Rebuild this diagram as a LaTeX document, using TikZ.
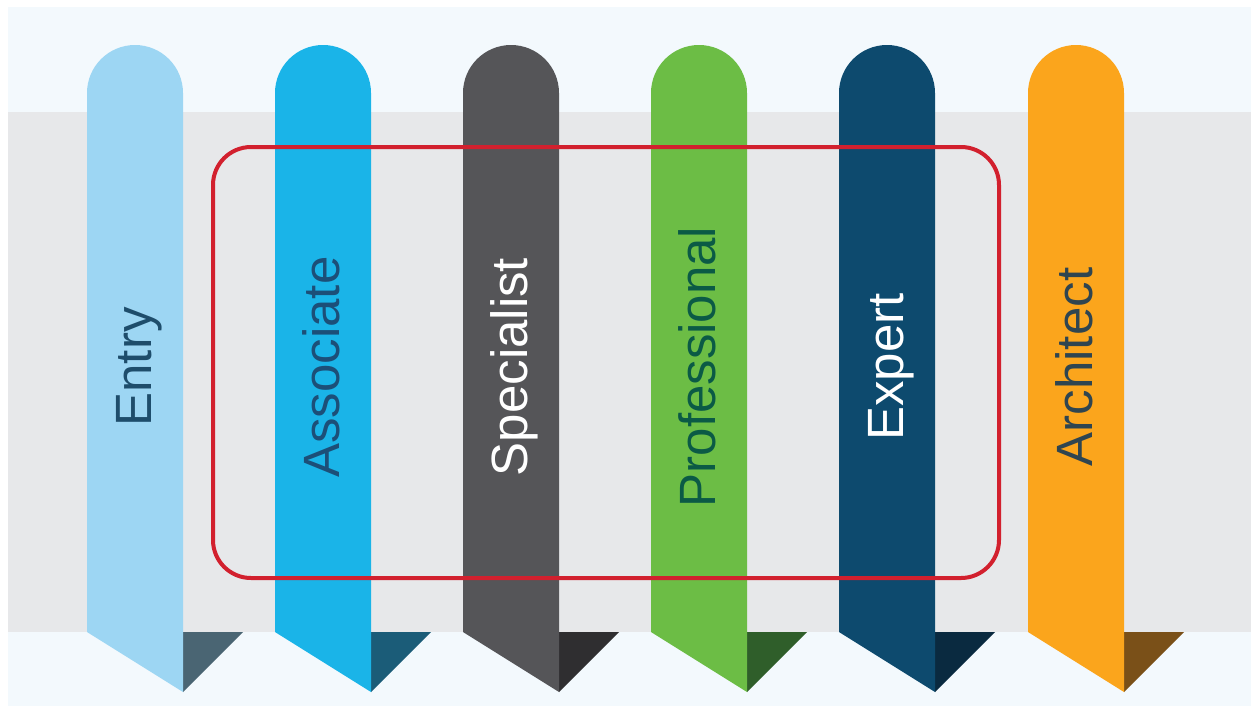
\documentclass[tikz,border=0pt]{standalone}
\usepackage{fontspec}
\setmainfont{Liberation Sans}
\definecolor{panel}{HTML}{F3F9FD}
\definecolor{band}{HTML}{E7E8EA}
\definecolor{redframe}{HTML}{D2202E}
\definecolor{cEntry}{HTML}{9DD6F3}
\definecolor{tEntry}{HTML}{4A6573}
\definecolor{xEntry}{HTML}{1E4D6B}
\definecolor{cAssoc}{HTML}{1AB4E8}
\definecolor{tAssoc}{HTML}{1B5C78}
\definecolor{xAssoc}{HTML}{1C4F78}
\definecolor{cSpec}{HTML}{555558}
\definecolor{tSpec}{HTML}{2F2E30}
\definecolor{xSpec}{HTML}{FFFFFF}
\definecolor{cProf}{HTML}{6CBD45}
\definecolor{tProf}{HTML}{2F5E2A}
\definecolor{xProf}{HTML}{0B5A45}
\definecolor{cExp}{HTML}{0D4A6E}
\definecolor{tExp}{HTML}{0A2A40}
\definecolor{xExp}{HTML}{FFFFFF}
\definecolor{cArch}{HTML}{FBA51C}
\definecolor{tArch}{HTML}{7A5018}
\definecolor{xArch}{HTML}{2F4550}
\tikzset{
  label text/.style={rotate=90, anchor=base, inner sep=0pt, font=\fontsize{51}{60}\selectfont},
  frame/.style={draw=redframe, line width=4pt, rounded corners=38pt}
}
\begin{document}
\begin{tikzpicture}[x=1pt,y=-1pt]
\useasboundingbox (0,0) rectangle (1251,713);
\fill[white] (0,0) rectangle (1251,713);
\fill[panel] (8,7) rectangle (1251,706);
\fill[band] (8,112) rectangle (1251,632);
\foreach \L/\nm/\txt in {87/Entry/Entry, 275/Assoc/Associate, 463/Spec/Specialist, 651/Prof/Professional, 839/Exp/Expert, 1028/Arch/Architect}{
  \fill[t\nm] (\L+96,632) -- (\L+156,632) -- (\L+96,692) -- cycle;
  \fill[c\nm] (\L,632) -- (\L,93) arc[start angle=180, end angle=360, radius=48] -- (\L+96,692) -- cycle;
  \node[label text, text=x\nm] (n\nm) at (\L+64,367) {\txt};
}
\draw[frame] (213,147) rectangle (999,578);
\end{tikzpicture}
\end{document}
